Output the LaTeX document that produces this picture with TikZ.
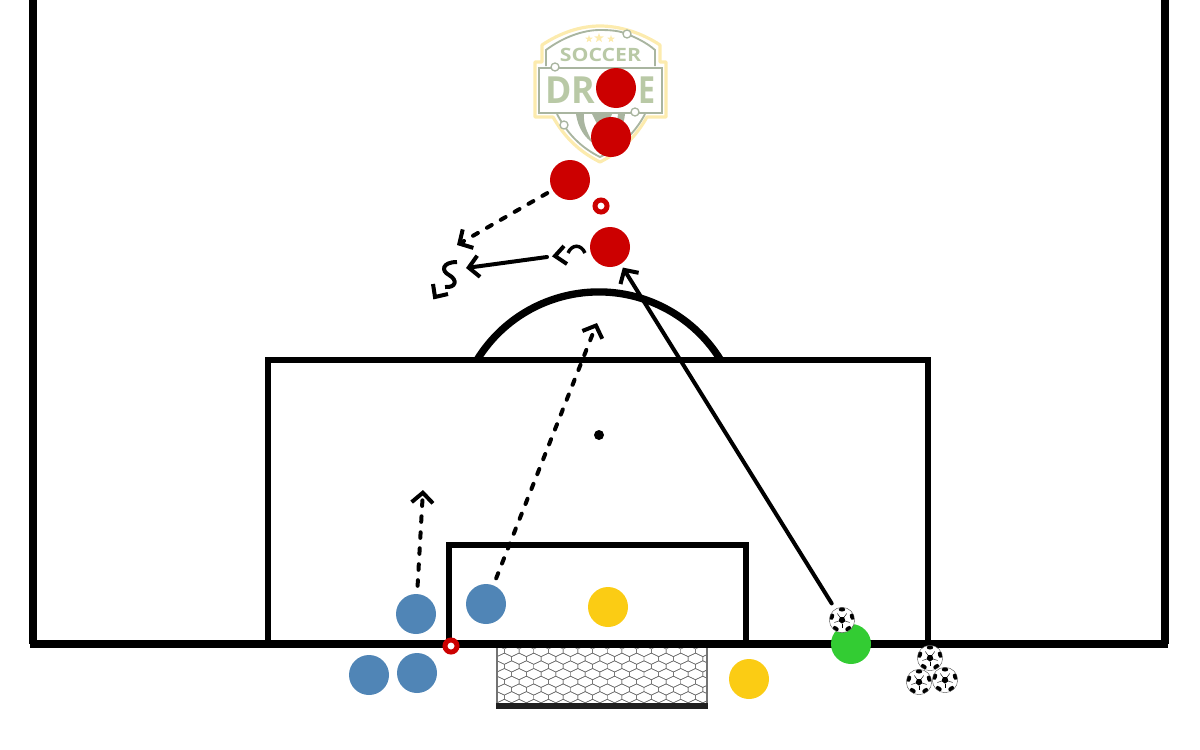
\documentclass[tikz,border=0pt]{standalone}
\usepackage{graphicx}
\usepackage{fontspec}
\newfontfamily\logofont{Open Sans}
\usetikzlibrary{arrows.meta,shapes.geometric}

\definecolor{teamred}{HTML}{CC0000}
\definecolor{teamblue}{HTML}{5085B6}
\definecolor{teamyellow}{HTML}{FBCC14}
\definecolor{teamgreen}{HTML}{33CC33}
\definecolor{logogreen}{HTML}{B9C9A6}
\definecolor{logogrey}{HTML}{A9B5A0}
\definecolor{logoyellow}{HTML}{FCEBAE}

\begin{document}
\begin{tikzpicture}[
				x = 0.75pt, y = -0.75pt, % one unit is one pixel of the reference
				> = {Straight Barb[length=7.5pt,width=16pt]}, % arrow head style
				run/.style = {line width=3pt, line cap=round},
				dashrun/.style = {run, dash pattern=on 4.2pt off 7.8pt},
				chevron/.style = {line width=3pt},
				player/.style = {circle, inner sep=0pt, minimum size=30pt},
				ring/.style = {circle, draw=teamred, line width=3.75pt, fill=white, inner sep=0pt, minimum size=9pt},
				ball/.style = {circle, draw=black!70, line width=0.3pt, fill=white, inner sep=0pt, minimum size=19pt,
					path picture={
						\begin{scope}[shift={(path picture bounding box.center)}, rotate=#1]
							\fill[black] (18:3.6) -- (90:3.6) -- (162:3.6) -- (234:3.6) -- (306:3.6) -- cycle;
							\foreach \a in {18,90,162,234,306} {
								\draw[black, line width=0.3pt] (\a:3.6) -- (\a:8);
								\fill[black] (\a+36:14) -- (\a+20:11.5) -- (\a+20:9.5) -- (\a+36:8.5) -- (\a+52:9.5) -- (\a+52:11.5) -- cycle;
							}
						\end{scope}
					}},
				]
				
				\tikzstyle{line}=[draw = black, line width = 5.5pt]
				\tikzstyle{logoline}=[draw = logogrey, line width = 1.4pt]
				
				\useasboundingbox (0,0) rectangle (1200,750);
				
				% logo behind the players
				\draw[draw=logoyellow, line width=2.4pt, line join=round]
					(542,62) -- (542,45) .. controls (560,33) and (580,26) .. (600,26)
					.. controls (620,26) and (642,33) .. (660,45) -- (660,62) -- (666,62) -- (666,117) -- (647,117)
					.. controls (635,138) and (620,152) .. (600,162)
					.. controls (580,152) and (565,138) .. (553,117) -- (535,117) -- (535,62) -- cycle;
				\draw[logoline] (546,66) -- (546,50) .. controls (562,38) and (582,30) .. (600,30)
					.. controls (612,30) and (620,31) .. (627,34) .. controls (637,38) and (647,43) .. (655,50) -- (655,66);
				\draw[logoline] (539,68) rectangle (662,113);
				\draw[logoline] (557,114) .. controls (568,135) and (582,148) .. (600,157)
					.. controls (618,148) and (634,135) .. (645,114);
				\fill[logogrey] (576,114) .. controls (578,128) and (585,138) .. (593,143) .. controls (587,132) and (583,124) .. (584,114) -- cycle;
				\fill[logogrey] (592,114) -- (612,114) -- (609,122) -- (601,128) -- (596,122) -- cycle;
				\fill[logogrey] (625,114) .. controls (624,126) and (618,136) .. (610,143) .. controls (614,132) and (617,124) .. (618,114) -- cycle;
				\foreach \px/\py in {627/34, 555/67, 635/112, 564/125}
					\draw[logoline, fill=white, line width=1pt] (\px,\py) circle (4);
				\foreach \sx/\sy/\ssize in {589/39/6pt, 599/38/7.5pt, 611/39/6pt}
					\node[star, star points=5, star point ratio=2.4, fill=logoyellow, inner sep=0pt, minimum size=\ssize] (star\sx) at (\sx,\sy) {};
				\node[inner sep=0pt, text=logogreen] (logotop) at (600.5,55) {\resizebox{61pt}{10pt}{\logofont\bfseries SOCCER}};
				\node[inner sep=0pt, text=logogreen] (logoleft) at (570,90) {\resizebox{37.5pt}{20pt}{\logofont\bfseries DR}};
				\node[inner sep=0pt, text=logogreen] (logoright) at (646.5,90) {\resizebox{12.75pt}{20pt}{\logofont\bfseries E}};
				
				% pitch lines
				\draw[line] (33,0) -- (33,644);
				\draw[line] (1165,0) -- (1165,644);
				\draw[line] (30,644) -- (1168,644);
				\draw[line, line width=5pt] (268,644) -- (268,360) -- (928,360) -- (928,644);
				\draw[line, line width=5pt] (449,644) -- (449,545) -- (746,545) -- (746,644);
				\draw[line] (477,360) arc[start angle=211.6, end angle=328.4, radius=143];
				
				% goal
				\begin{scope}
					\clip (497,648) rectangle (707,704);
					\foreach \r in {0,...,8} {
						\foreach \c in {0,...,15} {
							\pgfmathsetmacro{\hx}{497+\c*14.7+mod(\r,2)*7.35}
							\pgfmathsetmacro{\hy}{651+\r*7.7}
							\draw[black!60, line width=0.35pt] (\hx-7.35,\hy-2) -- (\hx,\hy-5.5) -- (\hx+7.35,\hy-2) -- (\hx+7.35,\hy+2) -- (\hx,\hy+5.5) -- (\hx-7.35,\hy+2) -- cycle;
						}
					}
				\end{scope}
				\draw[black!55, line width=0.8pt] (497,648) -- (497,704) (707,648) -- (707,704);
				\fill[black!88] (496,703) rectangle (708,709);
				
				% players
				\node[player, fill=teamred] (redA) at (616,88) {};
				\node[player, fill=teamred] (redB) at (611,137) {};
				\node[player, fill=teamred] (redC) at (570,180) {};
				\node[player, fill=teamred] (redD) at (610,247) {};
				\node[player, fill=teamblue] (blueA) at (416,614) {};
				\node[player, fill=teamblue] (blueB) at (486,604) {};
				\node[player, fill=teamblue] (blueC) at (369,675) {};
				\node[player, fill=teamblue] (blueD) at (417,673) {};
				\node[player, fill=teamyellow] (keeperA) at (608,607) {};
				\node[player, fill=teamyellow] (keeperB) at (749,679) {};
				\node[player, fill=teamgreen] (server) at (851,644) {};
				
				\node[ring] (ringA) at (601,206) {};
				\node[ring] (ringB) at (451,646) {};
				\node[circle, fill=black, inner sep=0pt, minimum size=7.5pt] (spot) at (599,435) {};
				
				\node[ball=15] (ballA) at (842,620) {};
				\node[ball=-20] (ballB) at (930,658) {};
				\node[ball=30] (ballC) at (919,682) {};
				\node[ball=-10] (ballD) at (945,680) {};
				
				% free ends of the runs
				\coordinate (runA) at (423,490);
				\coordinate (runB) at (597,323);
				\coordinate (runC) at (457,245);
				\coordinate (passA) at (547,257);
				\coordinate (passB) at (466,268);
				
				\path[->]
				(ballA)	edge [run, shorten <=5pt, shorten >=3pt] (redD)
				(passA)	edge [run] (passB)
				(blueA)	edge [dashrun, shorten <=6pt] (runA)
				(blueB)	edge [dashrun, shorten <=5.5pt] (runB)
				(redC)	edge [dashrun, shorten <=4.5pt] (runC)
				;
				
				% short turns with their heads
				\draw[chevron] (564,246) -- (555,256) -- (567,264);
				\draw[run, line width=2.6pt, line cap=butt] (585,253) .. controls (581,244) and (572,244) .. (568,253);
				\draw[run, line cap=butt] (457,262) .. controls (442,262) and (441,271) .. (449,275)
					.. controls (458,280) and (456,288) .. (445,287);
				\draw[chevron] (433,284) -- (435,297) -- (448,294);
			\end{tikzpicture}
\end{document}
